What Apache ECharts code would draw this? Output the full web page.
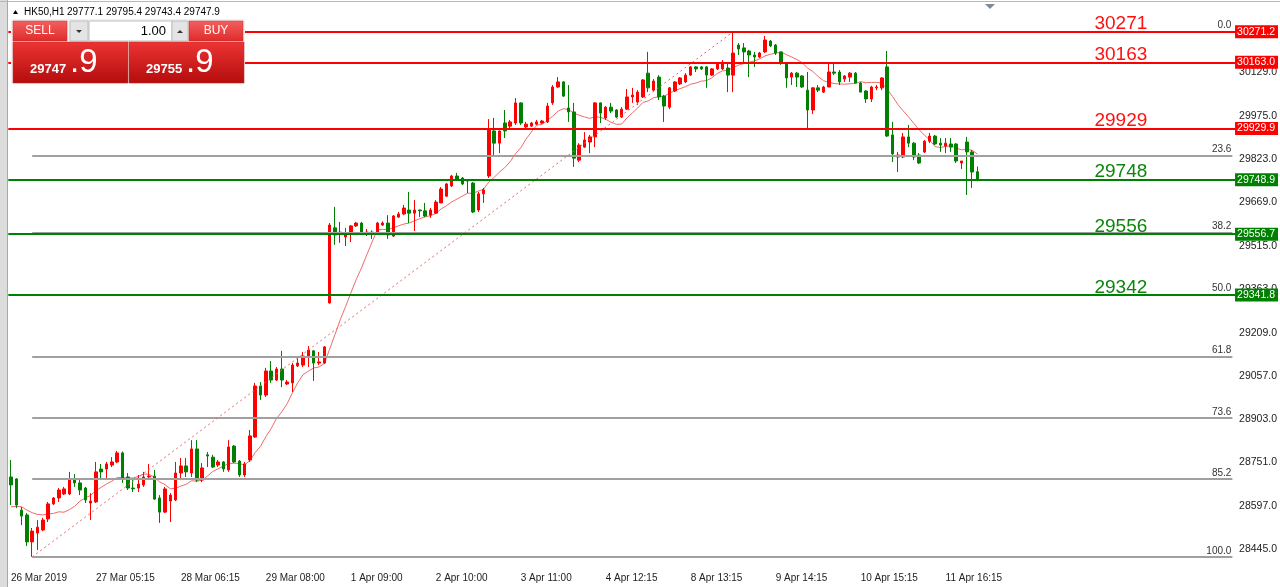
<!DOCTYPE html>
<html><head><meta charset="utf-8">
<script src="https://cdn.jsdelivr.net/npm/echarts@6/dist/echarts.min.js"></script>
<style>html,body{margin:0;padding:0;background:#fff;overflow:hidden}#c{width:1280px;height:587px}</style>
</head><body><div id="c"></div>
<script>
// ---------- data ----------
const tickLabels = ['26 Mar 2019','27 Mar 05:15','28 Mar 06:15','29 Mar 08:00','1 Apr 09:00','2 Apr 10:00','3 Apr 11:00','4 Apr 12:15','8 Apr 13:15','9 Apr 14:15','10 Apr 15:15','11 Apr 16:15'];
const priceTicks = [30129,29975,29823,29669,29515,29363,29209,29057,28903,28751,28597,28445];

const opens = [28700,28693,28583,28566,28471,28502,28513,28552,28605,28626,28640,28640,28693,28679,28661,28608,28612,28728,28728,28742,
28753,28785,28700,28661,28661,28672,28700,28703,28626,28576,28615,28619,28714,28739,28714,28799,28689,28778,28770,28742,
28753,28725,28809,28756,28707,28760,28841,29021,28989,29074,29042,29081,29028,29032,29092,29095,29127,29145,29102,29102,
29314,29579,29557,29547,29557,29586,29596,29561,29564,29561,29589,29596,29550,29617,29628,29642,29631,29642,29639,29624,
29631,29667,29691,29727,29762,29755,29748,29737,29642,29699,29762,29921,29878,29949,29938,29949,30020,29935,29938,29945,
29949,29953,30020,30076,30094,30002,29988,29818,29864,29882,29900,30020,29967,30005,29995,29970,29998,30041,30023,30041,
30125,30065,30111,30044,30005,30062,30087,30094,30118,30147,30147,30147,30118,30140,30140,30143,30118,30224,30214,30203,
30189,30182,30200,30238,30224,30200,30161,30111,30125,30115,30065,29995,30073,30058,30076,30129,30129,30104,30111,30125,
30090,30062,30034,30073,30073,30147,29907,29829,29829,29900,29878,29836,29847,29885,29903,29878,29868,29875,29875,29808,
29882,29847,29777.1];
const closes = [28672,28601,28562,28471,28509,28523,28548,28605,28626,28654,28658,28693,28679,28654,28619,28615,28718,28718,28746,28753,
28785,28693,28661,28658,28675,28700,28703,28622,28576,28658,28636,28714,28739,28718,28799,28689,28732,28774,28735,28753,
28728,28806,28753,28707,28746,28845,29021,28989,29074,29042,29081,29042,29035,29095,29102,29127,29148,29102,29106,29159,
29589,29554,29564,29557,29586,29596,29561,29564,29561,29596,29596,29554,29621,29628,29649,29631,29642,29639,29621,29642,
29670,29716,29734,29762,29751,29734,29744,29635,29699,29713,29924,29878,29921,29921,29953,30020,29949,29945,29949,29953,
29956,30009,30076,30094,30044,29988,29825,29871,29889,29900,30020,29984,30005,29991,29970,29998,30041,30048,30058,30101,
30073,30097,30041,30009,30073,30094,30108,30118,30147,30140,30140,30118,30140,30161,30164,30118,30196,30210,30200,30189,
30182,30196,30242,30221,30196,30161,30108,30125,30111,30076,29995,30073,30065,30076,30129,30125,30094,30115,30125,30090,
30058,30034,30076,30076,30108,29903,29840,29836,29900,29878,29829,29808,29885,29903,29875,29871,29878,29864,29815,29815,
29847,29776,29747.9];
const lows = [28601,28590,28530,28456,28418,28442,28509,28541,28601,28612,28636,28636,28665,28636,28608,28548,28608,28689,28689,28735,
28749,28679,28654,28647,28647,28665,28696,28619,28538,28573,28541,28615,28689,28700,28700,28682,28682,28735,28732,28735,
28718,28718,28749,28700,28700,28753,28838,28972,28982,29032,29039,29017,29025,29000,29088,29088,29088,29039,29095,29099,
29312,29519,29526,29515,29529,29582,29557,29550,29540,29557,29586,29540,29547,29614,29624,29596,29568,29617,29617,29614,
29628,29667,29688,29723,29744,29730,29702,29631,29635,29667,29755,29836,29843,29896,29931,29942,29942,29931,29935,29942,
29945,29949,30013,30073,30041,29953,29794,29811,29861,29843,29864,29949,29960,29984,29967,29967,29995,30020,30013,30037,
30058,30062,30030,29953,29998,30058,30083,30090,30115,30129,30136,30073,30115,30136,30136,30058,30058,30189,30161,30111,
30147,30178,30196,30217,30189,30154,30073,30083,30076,30073,29931,29981,30058,30055,30076,30118,30083,30094,30094,30090,
30058,30020,30023,30065,30065,29900,29811,29776,29825,29864,29818,29804,29843,29878,29871,29847,29843,29847,29808,29787,
29695,29720,29743.4];
const highs = [28760,28696,28594,28573,28520,28548,28556,28612,28629,28661,28665,28718,28710,28689,28665,28643,28753,28746,28753,28770,
28792,28790,28714,28689,28707,28718,28746,28725,28636,28665,28643,28753,28767,28767,28830,28830,28749,28788,28778,28760,
28756,28830,28813,28760,28753,28866,29032,29035,29085,29109,29088,29145,29042,29102,29127,29141,29162,29148,29141,29162,
29596,29653,29600,29579,29589,29600,29600,29575,29570,29600,29602,29624,29624,29635,29660,29706,29677,29643,29667,29649,
29677,29723,29737,29766,29773,29758,29751,29741,29706,29720,29963,29967,29922,29995,29960,30037,30022,29953,29953,29960,
29960,30020,30083,30111,30097,30083,30020,29878,29917,29907,30023,30022,30009,30020,29998,30005,30069,30073,30065,30104,
30200,30104,30118,30048,30076,30097,30111,30125,30150,30150,30150,30150,30143,30164,30171,30161,30271.2,30231,30231,30207,
30200,30200,30256,30242,30228,30200,30161,30129,30129,30118,30129,30076,30083,30080,30164,30164,30136,30118,30129,30129,
30094,30065,30080,30083,30111,30203,29953,29847,29914,29942,29882,29843,29889,29914,29907,29896,29896,29896,29878,29815,
29900,29854,29795.4];
// closes of the 9 bars just before the visible window (estimated), used by the chart's SMA(10) indicator
const priorCloses = [28583,28576,28590,28601,28583,28566,28576,28601,28598];
const maPeriod = 10;

const levelValues = [30271.2, 30163.0, 29929.9, 29748.9, 29556.7, 29341.8];
const levelKinds  = ['res','res','res','sup','sup','sup'];
const levelTitles = ['30271','30163','29929','29748','29556','29342'];
const fibRatios = [0, 23.6, 38.2, 50, 61.8, 73.6, 85.2, 100];
const fibHigh = 30271.2, fibLow = 28418, fibLowBar = 4, fibHighBar = 136;
const headerSymbol = 'HK50,H1';
const headerValues = ['29777.1','29795.4','29743.4','29747.9'];
const sellPrice = '29747', buyPrice = '29755', priceFrac = '.9', lots = '1.00';

// ---------- build ----------
const NSLOTS = 231;
const slots = Array.from({length: NSLOTS}, (_, i) => String(i));
const candles = opens.map((o, i) => [o, closes[i], lows[i], highs[i]]);
const ext = priorCloses.concat(closes);
const ma = closes.map((_, i) => {
  let s = 0; for (let k = 0; k < maPeriod; k++) s += ext[i + priorCloses.length - k];
  return +(s / maPeriod).toFixed(1);
});

const RED = '#ff0000', GREEN = '#008000';
const FONT = 'Liberation Sans, Arial, sans-serif';
const ml = [];
fibRatios.forEach(r => {
  const v = fibHigh - (fibHigh - fibLow) * r / 100;
  ml.push([{coord: [fibLowBar, v], lineStyle: {color: '#a0a0a0', width: 2, type: 'solid'},
            label: {show: true, position: 'insideEndTop', formatter: r.toFixed(1), color: '#333', fontSize: 10, fontFamily: FONT, distance: 1}},
           {coord: [NSLOTS - 1, v]}]);
});
ml.push([{coord: [fibLowBar, fibLow], lineStyle: {color: '#f06262', width: 1, type: [2, 3]}, label: {show: false}},
         {coord: [fibHighBar, fibHigh]}]);
levelValues.forEach((v, i) => {
  const c = levelKinds[i] === 'res' ? RED : GREEN;
  ml.push({yAxis: v, lineStyle: {color: c, width: 2, type: 'solid'},
    label: {show: true, position: 'end', formatter: v.toFixed(1), color: '#fff', backgroundColor: c,
            padding: [1, 3, 1, 2], fontSize: 10.5, fontFamily: FONT, distance: 0}});
});
const mp = levelValues.map((v, i) => ({
  coord: [209, v], symbol: 'circle', symbolSize: 0,
  label: {show: true, position: 'top', distance: 1, offset: [0, 3], formatter: levelTitles[i],
          color: levelKinds[i] === 'res' ? '#ff1010' : '#0b860b', fontSize: 19, fontFamily: FONT}
}));

function btn(x, y, w, h, top, bot) {
  return {type: 'rect', shape: {x, y, width: w, height: h},
    style: {fill: new echarts.graphic.LinearGradient(0, 0, 0, 1, [{offset: 0, color: top}, {offset: 1, color: bot}]), stroke: '#c03030', lineWidth: 0.5}};
}
const txt = (x, y, t, o) => Object.assign({type: 'text', x, y, style: Object.assign({text: t, fontFamily: FONT, fill: '#000', fontSize: 11}, o)});

const graphics = [
  {type: 'rect', shape: {x: 0, y: 0, width: 7, height: 587}, style: {fill: '#dcdcdc'}},
  {type: 'line', shape: {x1: 7.5, y1: 0, x2: 7.5, y2: 587}, style: {stroke: '#a8a8a8', lineWidth: 1}},
  {type: 'line', shape: {x1: 0, y1: 1.5, x2: 1280, y2: 1.5}, style: {stroke: '#b8b8b8', lineWidth: 1}},
  {type: 'polygon', shape: {points: [[985, 4], [995, 4], [990, 9]]}, style: {fill: '#7d8b99'}},
  {type: 'polygon', shape: {points: [[13, 14], [18, 14], [15.5, 10]]}, style: {fill: '#000'}},
  txt(24, 7, headerSymbol, {fontSize: 10}),
  txt(67, 7, headerValues.join(' '), {fontSize: 10}),
  {type: 'rect', shape: {x: 11, y: 19, width: 234, height: 65}, style: {fill: '#f0f0f0'}},
  btn(13, 21, 54, 20, '#f46060', '#e02a2a'),
  txt(40, 31, 'SELL', {fill: '#fff', fontSize: 12, align: 'center', verticalAlign: 'middle'}),
  {type: 'rect', shape: {x: 70, y: 21, width: 18, height: 20}, style: {fill: '#e4e4e4', stroke: '#c0c0c0', lineWidth: 1}},
  {type: 'polygon', shape: {points: [[76, 30], [82, 30], [79, 33]]}, style: {fill: '#333'}},
  {type: 'rect', shape: {x: 89, y: 21, width: 83, height: 20}, style: {fill: '#fff', stroke: '#c0c0c0', lineWidth: 1}},
  txt(166, 31, lots, {fontSize: 13, align: 'right', verticalAlign: 'middle'}),
  {type: 'rect', shape: {x: 172, y: 21, width: 16, height: 20}, style: {fill: '#e4e4e4', stroke: '#c0c0c0', lineWidth: 1}},
  {type: 'polygon', shape: {points: [[177, 33], [183, 33], [180, 30]]}, style: {fill: '#333'}},
  btn(189, 21, 54, 20, '#f46060', '#e02a2a'),
  txt(216, 31, 'BUY', {fill: '#fff', fontSize: 12, align: 'center', verticalAlign: 'middle'}),
  btn(13, 42, 115, 41, '#ec3434', '#b40c0c'),
  btn(129, 42, 115, 41, '#ec3434', '#b40c0c'),
  txt(30, 76, sellPrice, {fill: '#fff', fontSize: 13, fontWeight: 'bold', verticalAlign: 'bottom'}),
  txt(70, 79, priceFrac, {fill: '#fff', fontSize: 33, verticalAlign: 'bottom'}),
  txt(146, 76, buyPrice, {fill: '#fff', fontSize: 13, fontWeight: 'bold', verticalAlign: 'bottom'}),
  txt(186, 79, priceFrac, {fill: '#fff', fontSize: 33, verticalAlign: 'bottom'})
].map(g => Object.assign({z: 100, silent: true}, g));

const chart = echarts.init(document.getElementById('c'));
chart.setOption({
  animation: false,
  backgroundColor: '#fff',
  grid: {left: 8.3, right: 40.9, top: 2, bottom: 18},
  xAxis: {
    type: 'category', data: slots, boundaryGap: true,
    axisLine: {show: false}, axisTick: {show: false}, splitLine: {show: false},
    axisLabel: {
      interval: (idx) => idx % 16 === 0 && idx / 16 < tickLabels.length,
      formatter: (v, idx) => tickLabels[idx / 16] || '',
      align: 'left', margin: 4, fontSize: 10, color: '#222', fontFamily: FONT
    }
  },
  yAxis: {
    type: 'value', position: 'right', min: 28375.3, max: 30376.0, scale: true,
    axisLine: {show: false}, axisTick: {show: false}, splitLine: {show: false},
    axisLabel: {customValues: priceTicks, formatter: (v) => v.toFixed(1), fontSize: 10.5, color: '#222', margin: 4, fontFamily: FONT}
  },
  graphic: graphics,
  series: [
    {
      type: 'line', data: ma, symbol: 'none', silent: true,
      lineStyle: {color: '#f36a6a', width: 1}, z: 3
    },
    {
      type: 'candlestick', data: candles, barWidth: 3, silent: true, z: 4,
      itemStyle: {color: RED, color0: GREEN, borderColor: RED, borderColor0: GREEN, borderWidth: 1},
      markLine: {silent: true, symbol: ['none', 'none'], animation: false, data: ml},
      markPoint: {silent: true, animation: false, data: mp}
    }
  ]
});
</script></body></html>
